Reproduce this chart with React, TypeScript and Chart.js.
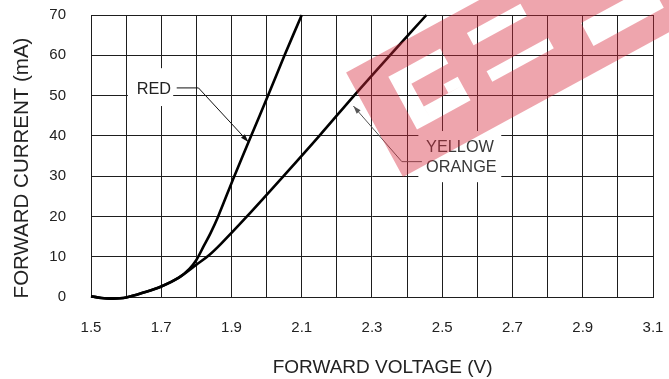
import React, { useEffect, useRef } from 'react';
import { Chart, registerables } from 'chart.js';

Chart.register(...registerables);

// ---- data ----
const xTickLabels = ['1.5', '1.7', '1.9', '2.1', '2.3', '2.5', '2.7', '2.9', '3.1'];
const yTickLabels = ['0', '10', '20', '30', '40', '50', '60', '70'];

const redVoltage = [1.5, 1.53, 1.56, 1.6, 1.65, 1.7, 1.75, 1.78, 1.8, 1.82, 1.84, 1.862, 1.908, 1.956, 2.004, 2.051, 2.1];
const redCurrent = [0.2, -0.25, -0.4, -0.1, 1.1, 2.6, 4.8, 7.0, 9.2, 12.5, 15.8, 20, 30, 40, 50, 60, 70];

const yellowVoltage = [1.5, 1.53, 1.56, 1.6, 1.65, 1.7, 1.75, 1.8, 1.835, 1.87, 1.944, 2.048, 2.15, 2.249, 2.351, 2.455];
const yellowCurrent = [0.2, -0.25, -0.4, -0.1, 1.1, 2.6, 4.8, 8.0, 10.3, 13.2, 20, 30, 40, 50, 60, 70];

// ---- annotation anchors (data units) ----
const redNote = {
  lines: ['RED'],
  textX: 1.679,
  baselines: [50.5],
  box: [1.605, 56.8, 1.734, 47.4],
  leader: [[1.744, 51.9], [1.806, 51.9], [1.948, 38.5]],
  align: 'center',
  color: '#222',
  leaderColor: '#111',
};
const yellowNote = {
  lines: ['YELLOW', 'ORANGE'],
  textX: 2.454,
  baselines: [36.06, 30.95],
  box: [2.432, 41.2, 2.668, 28.5],
  leader: [[2.442, 33.6], [2.385, 33.6], [2.247, 47.4]],
  align: 'left',
  color: '#383838',
  leaderColor: '#555',
};

const FONT = 'Arial, "Liberation Sans", Helvetica, sans-serif';

function drawNote(chart: any, note: any) {
  const ctx = chart.ctx;
  const xs = chart.scales.x;
  const ys = chart.scales.y;
  const px = (v: number) => xs.getPixelForValue(v);
  const py = (v: number) => ys.getPixelForValue(v);
  ctx.save();
  const [x0, y0, x1, y1] = note.box;
  ctx.fillStyle = '#ffffff';
  ctx.fillRect(px(x0), py(y0), px(x1) - px(x0), py(y1) - py(y0));
  ctx.fillStyle = note.color;
  ctx.font = '16.3px ' + FONT;
  ctx.textAlign = note.align;
  ctx.textBaseline = 'alphabetic';
  note.lines.forEach((t: string, i: number) => {
    ctx.fillText(t, px(note.textX), py(note.baselines[i]));
  });
  ctx.strokeStyle = note.leaderColor;
  ctx.lineWidth = 1;
  ctx.beginPath();
  note.leader.forEach((p: number[], i: number) => {
    const X = px(p[0]);
    const Y = py(p[1]);
    if (i === 0) ctx.moveTo(X, Y);
    else ctx.lineTo(X, Y);
  });
  ctx.stroke();
  const n = note.leader.length;
  const tx = px(note.leader[n - 1][0]);
  const ty = py(note.leader[n - 1][1]);
  const fx = px(note.leader[n - 2][0]);
  const fy = py(note.leader[n - 2][1]);
  const ang = Math.atan2(ty - fy, tx - fx);
  const L = 8;
  const W = 2.6;
  ctx.fillStyle = note.leaderColor;
  ctx.beginPath();
  ctx.moveTo(tx, ty);
  ctx.lineTo(tx - L * Math.cos(ang) + W * Math.sin(ang), ty - L * Math.sin(ang) - W * Math.cos(ang));
  ctx.lineTo(tx - L * Math.cos(ang) - W * Math.sin(ang), ty - L * Math.sin(ang) + W * Math.cos(ang));
  ctx.closePath();
  ctx.fill();
  ctx.restore();
}

// watermark shape in its own rotated frame (a along band, b across band)
const wmHoles = [
  [52, 94, 78, 95],
  [35, 52, 35, 95],
  [52, 96, 35, 52],
  [80, 96, 52, 62],
  [125, 186, 82, 96],
  [124, 194, 41, 53],
  [222, 300, 82, 100],
  [230, 310, 24, 50],
];

const notesPlugin = {
  id: 'notes',
  afterDatasetsDraw(chart: any) {
    drawNote(chart, redNote);
    drawNote(chart, yellowNote);
    const ctx = chart.ctx;
    const ca = chart.chartArea;
    ctx.save();
    ctx.fillStyle = '#222';
    ctx.font = '19px ' + FONT;
    ctx.textAlign = 'left';
    ctx.textBaseline = 'alphabetic';
    ctx.fillText('FORWARD VOLTAGE (V)', ca.left + 181.7, ca.bottom + 76);
    ctx.translate(28.3, (ca.top + ca.bottom) / 2 + 12);
    ctx.rotate(-Math.PI / 2);
    ctx.font = '20.5px ' + FONT;
    ctx.textAlign = 'center';
    ctx.fillText('FORWARD CURRENT (mA)', 0, 0);
    ctx.restore();
  },
  afterDraw(chart: any) {
    const ctx = chart.ctx;
    ctx.save();
    ctx.translate(403, 177);
    ctx.rotate(Math.atan2(-0.478, 0.878));
    ctx.beginPath();
    ctx.rect(0, -119, 450, 119);
    wmHoles.forEach(([a0, a1, b0, b1]) => {
      ctx.rect(a0, -b1, a1 - a0, b1 - b0);
    });
    ctx.fillStyle = 'rgba(214, 40, 60, 0.42)';
    ctx.fill('evenodd');
    ctx.restore();
  },
};

export default function App() {
  const ref = useRef<HTMLCanvasElement>(null);
  useEffect(() => {
    document.body.style.margin = '0';
    const canvas = ref.current!;
    const red = redVoltage.map((v, i) => ({ x: v, y: redCurrent[i] }));
    const yellow = yellowVoltage.map((v, i) => ({ x: v, y: yellowCurrent[i] }));
    const gridColor = '#1e1e1e';
    const lineDs = (label: string, data: any[]) => ({
      label,
      data,
      borderColor: '#000',
      borderWidth: 2.6,
      pointRadius: 0,
      tension: 0.35,
      fill: false,
      clip: false,
    });
    const chart = new Chart(canvas, {
      type: 'line',
      data: {
        datasets: [lineDs('RED', red), lineDs('YELLOW / ORANGE', yellow)] as any,
      },
      options: {
        animation: false,
        responsive: false,
        events: [],
        layout: { padding: { top: 15, right: 16, left: 0, bottom: 0 } },
        plugins: { legend: { display: false }, tooltip: { enabled: false }, title: { display: false } },
        scales: {
          x: {
            type: 'linear',
            min: 1.5,
            max: 3.1,
            afterFit: (s: any) => { s.height = 82; },
            grid: { color: gridColor, lineWidth: 1, drawTicks: true, tickLength: 22, tickColor: 'rgba(0,0,0,0)' },
            border: { color: gridColor, width: 1 },
            ticks: {
              stepSize: 0.1,
              autoSkip: false,
              maxRotation: 0,
              padding: 0,
              color: '#222',
              font: { family: FONT, size: 15 },
              callback: (v: any) => {
                const t = (Math.round(Number(v) * 10) / 10).toFixed(1);
                return xTickLabels.includes(t) ? t : '';
              },
            },
          },
          y: {
            type: 'linear',
            min: 0,
            max: 70,
            afterFit: (s: any) => { s.width = 91; },
            grid: { color: gridColor, lineWidth: 1, drawTicks: true, tickLength: 25, tickColor: 'rgba(0,0,0,0)' },
            border: { color: gridColor, width: 1 },
            ticks: {
              stepSize: 10,
              padding: 0,
              color: '#222',
              font: { family: FONT, size: 15 },
              callback: (v: any) => {
                const t = String(Math.round(Number(v)));
                return yTickLabels.includes(t) ? t : '';
              },
            },
          },
        },
      },
      plugins: [notesPlugin],
    });
    return () => chart.destroy();
  }, []);
  return (
    <div style={{ width: 669, height: 379 }}>
      <canvas ref={ref} width={669} height={379} style={{ display: 'block' }} />
    </div>
  );
}
